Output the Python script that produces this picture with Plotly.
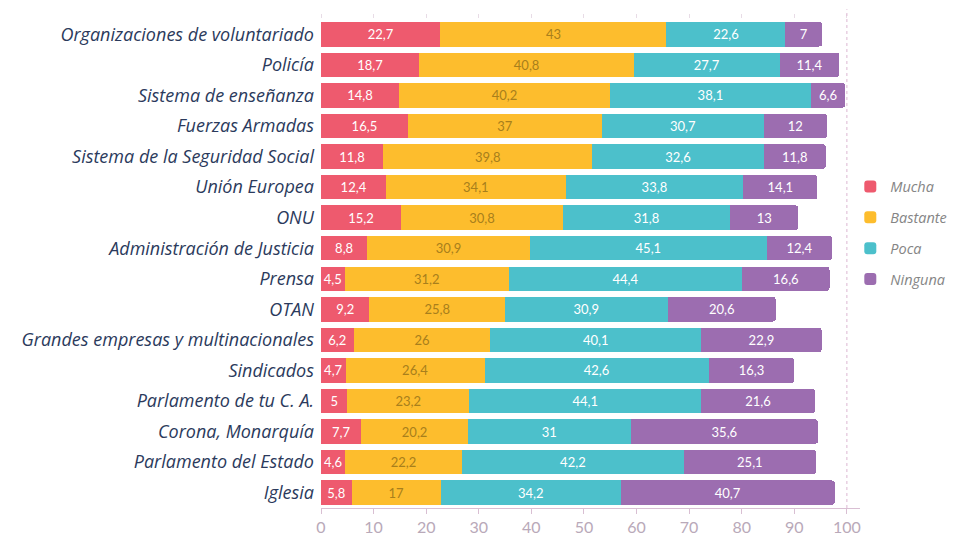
import plotly.graph_objects as go

categories = [
    "Organizaciones de voluntariado", "Policía", "Sistema de enseñanza",
    "Fuerzas Armadas", "Sistema de la Seguridad Social", "Unión Europea",
    "ONU", "Administración de Justicia", "Prensa", "OTAN",
    "Grandes empresas y multinacionales", "Sindicados", "Parlamento de tu C. A.",
    "Corona, Monarquía", "Parlamento del Estado", "Iglesia",
]
mucha = [22.7, 18.7, 14.8, 16.5, 11.8, 12.4, 15.2, 8.8, 4.5, 9.2, 6.2, 4.7, 5, 7.7, 4.6, 5.8]
bastante = [43, 40.8, 40.2, 37, 39.8, 34.1, 30.8, 30.9, 31.2, 25.8, 26, 26.4, 23.2, 20.2, 22.2, 17]
poca = [22.6, 27.7, 38.1, 30.7, 32.6, 33.8, 31.8, 45.1, 44.4, 30.9, 40.1, 42.6, 44.1, 31, 42.2, 34.2]
ninguna = [7, 11.4, 6.6, 12, 11.8, 14.1, 13, 12.4, 16.6, 20.6, 22.9, 16.3, 21.6, 35.6, 25.1, 40.7]
series_names = ["Mucha", "Bastante", "Poca", "Ninguna"]
tick_vals = [0, 10, 20, 30, 40, 50, 60, 70, 80, 90, 100]

colors = ["#EE5A6E", "#FDBD2D", "#4CC0CB", "#9C6DB0"]
text_colors = ["#ffffff", "#A87F1C", "#ffffff", "#ffffff"]

def fmt(v):
    return ("%g" % v).replace(".", ",")

fig = go.Figure()
for name, vals, c, tc in zip(series_names, [mucha, bastante, poca, ninguna], colors, text_colors):
    fig.add_trace(go.Bar(
        y=categories, x=vals, name=name, orientation="h",
        marker=dict(color=c, line=dict(width=0)),
        text=[fmt(v) for v in vals], textposition="inside",
        insidetextanchor="middle", textangle=0, constraintext="none",
        textfont=dict(family="Lato", size=13, color=tc),
        legendgroup=name, hoverinfo="skip",
    ))

fig.add_trace(go.Scatter(x=[0, 100], y=[None, None], xaxis="x2", yaxis="y",
                         showlegend=False, hoverinfo="skip"))

fig.add_shape(type="line", xref="x", yref="paper", x0=100, x1=100, y0=0, y1=1.02,
              line=dict(color="#E2C4DA", width=1.2, dash="dot"))

fig.update_layout(
    width=958, height=539,
    margin=dict(l=321, r=98, t=19, b=31, autoexpand=False),
    paper_bgcolor="white", plot_bgcolor="white",
    barmode="stack", bargap=0.2, barcornerradius=3,
    uniformtext=dict(mode="show", minsize=11),
    xaxis=dict(range=[0, 102.5], tickvals=tick_vals, showgrid=False, zeroline=False,
               showline=True, linecolor="#D9BFD3", linewidth=1,
               ticks="outside", ticklen=5, tickcolor="#D9BFD3",
               tickfont=dict(family="Lato", size=16, color="#B9A9B9")),
    xaxis2=dict(range=[0, 102.5], tickvals=tick_vals, overlaying="x", side="top",
                showgrid=False, zeroline=False, showline=False, showticklabels=False,
                ticks="outside", ticklen=4, tickcolor="#E8DCE6"),
    yaxis=dict(categoryorder="array", categoryarray=categories, autorange="reversed",
               showgrid=False, zeroline=False, showline=False, ticks="",
               ticklabelstandoff=6,
               tickfont=dict(family="Open Sans", size=18, color="#2B3A5C", style="italic")),
    legend=dict(x=0.982, y=0.69, xanchor="left", yanchor="top",
                traceorder="grouped", tracegroupgap=9,
                font=dict(family="Open Sans", size=14.5, color="#858585", style="italic"),
                bgcolor="rgba(0,0,0,0)"),
    showlegend=True,
)

fig.write_html("out.html")
